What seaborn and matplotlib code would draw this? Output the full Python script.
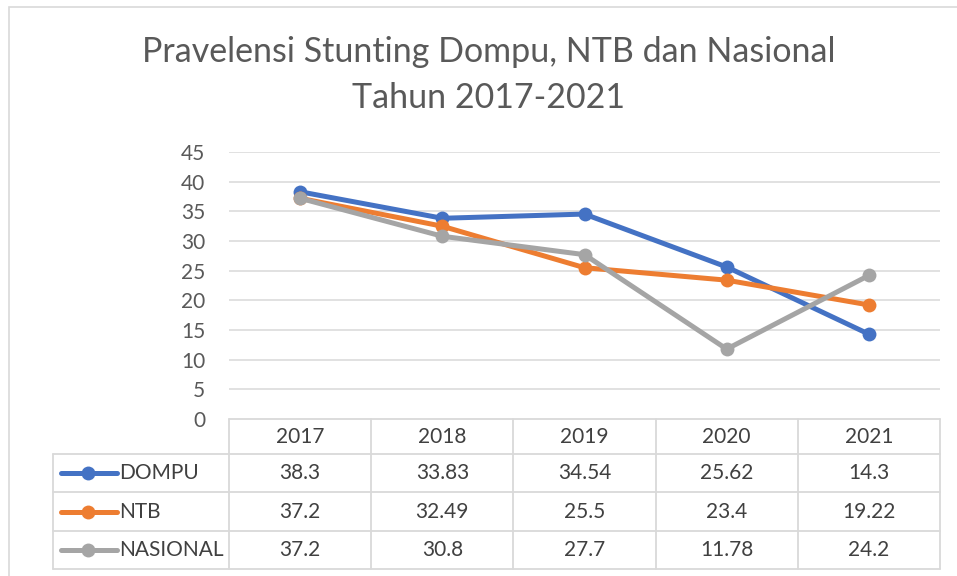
import matplotlib
matplotlib.use("Agg")
import matplotlib.pyplot as plt
import matplotlib.transforms as mtransforms
from matplotlib.patches import Rectangle
import pandas as pd
import seaborn as sns

# data
years = ["2017", "2018", "2019", "2020", "2021"]
series_names = ["DOMPU", "NTB", "NASIONAL"]
dompu = [38.3, 33.83, 34.54, 25.62, 14.3]
ntb = [37.2, 32.49, 25.5, 23.4, 19.22]
nasional = [37.2, 30.8, 27.7, 11.78, 24.2]
dompu_txt = ["38.3", "33.83", "34.54", "25.62", "14.3"]
ntb_txt = ["37.2", "32.49", "25.5", "23.4", "19.22"]
nasional_txt = ["37.2", "30.8", "27.7", "11.78", "24.2"]
y_ticks = [0, 5, 10, 15, 20, 25, 30, 35, 40, 45]
title = "Pravelensi Stunting Dompu, NTB dan Nasional\nTahun 2017-2021"

colors = ["#4472C4", "#ED7D31", "#A5A5A5"]
grid_c = "#D9D9D9"
W, H = 957, 576

sns.set_theme(style="white")
plt.rcParams["font.family"] = ["Lato", "DejaVu Sans"]

rows = []
for name, vals in zip(series_names, [dompu, ntb, nasional]):
    for i, v in enumerate(vals):
        rows.append({"x": i, "val": v, "series": name})
df = pd.DataFrame(rows)

fig = plt.figure(figsize=(W / 100, H / 100), dpi=100)
fig.patch.set_facecolor("white")


def fx(px):
    return px / W


def fy(py):
    return 1 - py / H


# outer chart border
fig.add_artist(Rectangle((fx(9), fy(H + 20)), 2, fy(7) - fy(H + 20),
                         transform=fig.transFigure, fill=False,
                         edgecolor=grid_c, linewidth=1.2))

ax = fig.add_axes([fx(229), fy(419), fx(940) - fx(229), fy(152) - fy(419)])
sns.lineplot(data=df, x="x", y="val", hue="series", hue_order=series_names,
             palette=colors, marker="o", markersize=10, markeredgewidth=0,
             linewidth=3.6, legend=False, ax=ax)
ax.set_xlim(-0.5, len(years) - 0.5)
ax.set_ylim(0, 45)
ax.set_yticks(y_ticks)
ax.set_yticklabels([str(t) for t in y_ticks], fontsize=15, color="#595959")
ax.set_xticks([])
ax.set_xlabel("")
ax.set_ylabel("")
ax.tick_params(axis="y", length=0, pad=17)
for t in y_ticks[1:]:
    ax.axhline(t, color=grid_c, linewidth=1.1, zorder=0)
for s in ax.spines.values():
    s.set_visible(False)

fig.text(fx(489), fy(75), title, ha="center", va="center", fontsize=24.5,
         color="#595959", linespacing=1.5)

# data table below the plot
tr = mtransforms.blended_transform_factory(ax.transData, fig.transFigure)
x_left = -0.5 - (229 - 53) / (711 / len(years))
x_right = len(years) - 0.5
row_lines = [419, 454, 492, 531, 569]
lk = dict(color=grid_c, linewidth=1.3, clip_on=False, transform=tr, zorder=1)

ax.plot([-0.5, x_right], [fy(419), fy(419)], **lk)
for py in row_lines[1:]:
    ax.plot([x_left, x_right], [fy(py), fy(py)], **lk)
for i in range(len(years) + 1):
    ax.plot([i - 0.5, i - 0.5], [fy(419), fy(569)], **lk)
ax.plot([x_left, x_left], [fy(454), fy(569)], **lk)

for i, yr in enumerate(years):
    ax.text(i, fy(437), yr, ha="center", va="center", fontsize=15,
            color="#404040", transform=tr)

texts = [dompu_txt, ntb_txt, nasional_txt]
for r, name in enumerate(series_names):
    yc = fy((row_lines[r + 1] + row_lines[r + 2]) / 2)
    for i, t in enumerate(texts[r]):
        ax.text(i, yc, t, ha="center", va="center", fontsize=15,
                color="#404040", transform=tr)
    # legend key
    ax.plot([fx(61), fx(117)], [yc, yc], color=colors[r], linewidth=3.6,
            transform=fig.transFigure, clip_on=False, solid_capstyle="round")
    ax.plot([fx(88)], [yc], marker="o", markersize=10, color=colors[r],
            markeredgewidth=0, transform=fig.transFigure, clip_on=False)
    ax.text(fx(119), yc, name, ha="left", va="center", fontsize=15,
            color="#404040", transform=fig.transFigure)

fig.savefig("out.png", dpi=100, facecolor="white")
